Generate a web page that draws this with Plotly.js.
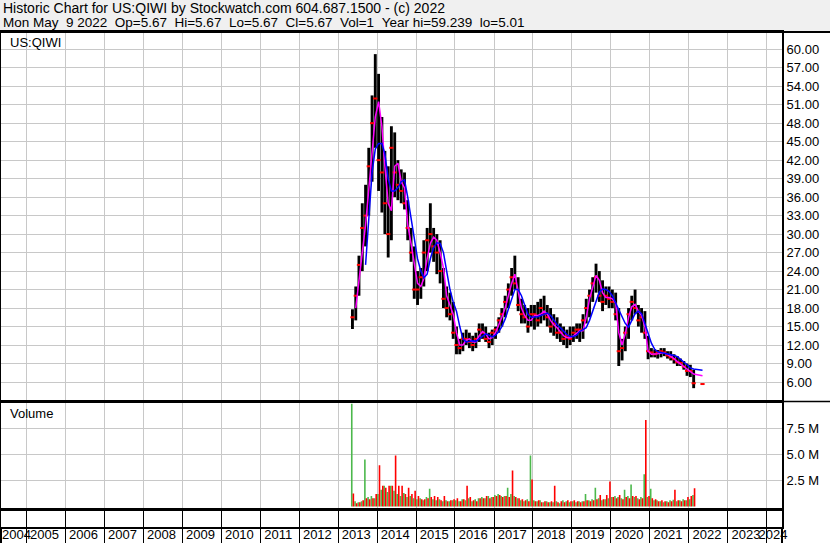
<!DOCTYPE html>
<html><head><meta charset="utf-8">
<script src="https://cdn.plot.ly/plotly-3.0.1.min.js"></script>
<style>html,body{margin:0;padding:0;background:#f0f0f0;overflow:hidden}#chart{width:830px;height:543px}</style>
</head><body><div id="chart"></div>
<script>
// ---------- texts ----------
const headerLine1 = 'Historic Chart for US:QIWI by Stockwatch.com 604.687.1500 - (c) 2022';
const headerLine2 = 'Mon May  9 2022  Op=5.67  Hi=5.67  Lo=5.67  Cl=5.67  Vol=1  Year hi=59.239  lo=5.01';
const symbolLabel = 'US:QIWI';
const volumeLabel = 'Volume';

// ---------- axes ----------
const years = [2004,2005,2006,2007,2008,2009,2010,2011,2012,2013,2014,2015,2016,2017,2018,2019,2020,2021,2022,2023,2024];
const xRange = ['2004-05-08', '2024-05-23'];
const priceTicks = [6,9,12,15,18,21,24,27,30,33,36,39,42,45,48,51,54,57,60];
const volTickVals = [2.5e6, 5e6, 7.5e6];
const volTickText = ['2.5 M', '5.0 M', '7.5 M'];

// ---------- monthly data, May 2013 .. Feb 2022 ----------
const firstYear = 2013, firstMonth = 5, monthCount = 106;
const priceHigh = [
 17.8,21.5,26.5,35,38,44,52.5,59.2,
 56,49,43.5,41,47.5,46.5,42,40.5,40,35.5,31,28,
 24,24.5,29,31,35,31,30,29,24.5,21.5,20.5,19,
 15,13,14,14.5,14,13.5,14,15.5,15.5,15,14,14.5,
 15,16.5,18,20,22,24.5,26.5,23,19.5,18.5,18,18.5,
 18.5,19,19.5,20,18.5,18,17,16.5,15.5,15,14.5,15,
 15,15.5,15.5,17,19.5,21,23,25.2,24,22.5,21.5,21.5,
 21,20.5,18,13,15,18,20,21,18.5,18,17.5,13.5,
 11.5,11.3,11.2,11.5,11.5,11,11,10.5,10.2,9.8,9.4,9,
 8.8,8];
const priceLow = [
 14.6,16,20,24,28,33,38.5,44,
 37,33.5,30,26.2,29,36,35.5,35,34,29,25.5,19.5,
 18.5,19.5,21.5,24,27,25.5,23.5,22,18,16.5,16,13,
 10.5,10.5,11,12,11.5,11,11.5,12.5,13,12.5,11.5,12,
 13,14,15,16.5,18,20,21,17.5,15.5,15.5,14,15,
 14.5,15,15.5,16,15,14,13.5,13,12.5,12,11.5,12,
 12.5,13,12.5,13,15.5,16.5,19,20.5,19,17.5,18.5,18,
 18,16,8.6,9.5,11,13,16,17,15,14,13,9.7,
 10,10,9.8,10,10.2,9.8,9.5,9,8.6,8.6,8,7,
 6.8,5];
const priceClose = [
 16.5,20,25,31,33,41,48,52,
 42,40,35,30,44,40,38,37,35,31,27,21,
 21,23,27,29,30,28,27,24,19.5,18,17,14,
 12,11.5,13,13,12.5,12,13,14.5,14,13,12.5,14,
 14.5,16,17,19,21,23,22,18.5,17,16.5,15,17,
 17,16,18,17,16.5,15,15.5,14,14,13,13.5,13,
 14,14.5,14.5,16,18,20,22,23,20,19,20,19.5,
 19,17,11,11.5,14,17,19,18,16,16.5,14,11,
 10.8,10.5,10.8,11,10.8,10.3,10,9.7,9.2,9.1,8.5,7.8,
 7.8,5.8];
const maFast = [
 null,18,22,27,31.5,37,43,49,
 51.5,47.5,41,35,33.8,41,41.5,38.5,37.5,31.5,28.5,25,
 22,21.5,22.8,26,28.5,29.5,29,27,24.5,20,18.5,17,
 14,12,12,12.8,13,12.5,12.5,13.5,14.2,13.8,13,13.2,
 14,15.2,16.5,18,20,22,23.5,20.5,18,16.8,16,16,
 16.8,16.8,17,17.5,17,16,15.3,14.8,14.2,13.5,13.2,13.2,
 13.5,14,14.3,14.3,16.5,19.5,21.5,23.3,22.5,20.5,19.7,19.7,
 19.5,18.8,14,12,13.8,16.5,18.2,18.6,17.5,16.8,15,11,
 10.5,10.5,10.6,10.7,10.7,10.5,10.2,9.8,9.3,8.9,8.4,8.0,
 7.7,7.3];
const maSlow = [
 null,null,null,null,25,33,40,43.8,
 44.7,44.7,43,39,37,37,37.5,38.5,38.8,36,32.5,29,
 26,24,22.9,23.5,26,27.8,28.6,28.5,27,24,21,19,
 17.5,15,13,12.5,12.6,12.7,12.6,13,13.5,13.8,13.6,13.3,
 13.6,14.2,15,16.2,17.8,19.5,21,21,20,18.5,17,16.5,
 16.5,16.6,16.8,17,17.2,16.8,16,15.3,14.8,14.2,13.7,13.4,
 13.4,13.6,14.2,14.5,14.8,16,17.5,19.4,20.6,21.1,21,20.7,
 20,18.8,17.7,16.6,15.5,14.9,15.9,17.1,17.5,17.1,15.5,14,
 12.3,11.3,10.9,10.8,10.7,10.6,10.5,10.3,10.1,9.7,9.3,8.8,
 8.3,8.1];
// volume in millions of shares: up-day (green) and down-day (red) peaks per month
const volUp = [
 9.87,0.5,0.4,0.5,4.5,0.9,1.0,0.8,
 1.2,1.6,2.0,1.4,2.0,1.5,1.2,1.0,1.3,0.9,1.0,0.8,
 0.7,0.8,0.6,0.9,1.7,0.7,0.6,0.7,0.5,0.6,0.5,0.6,
 0.6,0.5,0.7,0.6,0.8,0.5,0.7,0.8,0.9,0.8,1.0,0.9,
 1.1,1.2,1.0,1.0,1.8,1.2,1.0,0.8,0.6,0.5,0.7,4.9,
 0.6,0.5,0.6,0.4,0.5,0.4,0.4,0.5,0.3,0.6,0.5,0.4,
 0.5,0.4,0.5,0.5,1.2,0.6,0.7,1.8,0.8,0.6,0.7,0.8,
 0.9,1.0,0.9,0.8,1.6,1.0,2.1,0.9,0.8,0.9,3.1,0.9,
 1.7,0.6,0.6,0.5,0.4,0.5,0.6,0.65,0.5,0.6,0.7,0.6,
 0.7,1.1];
const volDown = [
 1.25,0.3,0.4,0.6,0.8,0.7,0.8,1.2,
 3.96,2.0,1.8,2.0,2.0,4.9,2.0,2.0,1.2,1.8,1.2,1.5,
 1.0,0.7,0.7,0.8,0.9,1.0,0.9,0.6,1.0,0.5,0.6,0.7,
 0.8,0.5,0.7,2.0,0.9,0.6,0.5,0.8,0.8,1.0,0.8,0.9,
 1.0,1.1,0.9,1.0,0.9,3.45,0.9,0.8,0.7,0.6,0.5,2.6,
 0.5,0.6,0.4,0.5,0.4,0.5,2.0,0.4,0.5,0.4,0.6,0.5,
 0.6,0.5,0.4,0.5,0.6,0.5,0.6,0.7,1.1,0.7,1.1,2.4,
 0.9,0.8,1.1,0.7,0.9,0.8,1.0,1.0,0.7,0.8,8.3,1.0,
 0.8,0.7,0.5,0.6,0.5,0.4,0.5,1.6,0.6,0.5,0.6,0.9,
 1.0,1.75];
// last trading day shown
const lastDate = '2022-05-09', lastClose = 5.67, lastMaFast = 7.0, lastMaSlow = 7.9;

// ---------- build ----------
const DAY = 86400000;
const pad = n => String(n).padStart(2, '0');
const monthStart = [], monthMid = [];
for (let i = 0; i < monthCount; i++) {
  const k = firstMonth - 1 + i, y = firstYear + Math.floor(k / 12), m = k % 12 + 1;
  monthStart.push(`${y}-${pad(m)}-01`);
  monthMid.push(`${y}-${pad(m)}-15`);
}

// pixel helpers (layout only)
const W = 830, H = 543, ML = 1, MR = 48, MT = 32, MB = 16;
const PW = W - ML - MR, PH = H - MT - MB;
const py = p => (H - MB - p) / PH;
const px = p => (p - ML) / PW;

const gridVals = years.map(y => `${y}-01-01`);
const t0 = Date.parse(xRange[0]), t1 = Date.parse(xRange[1]);
const msPerPx = (t1 - t0) / PW;
const labelVals = years.map(y => {
  const a = Math.max(Date.UTC(y, 0, 1), t0), b = Math.min(Date.UTC(y + 1, 0, 1), t1);
  const c = Math.max((a + b) / 2 - 12 * DAY, t0 + 15.5 * msPerPx);
  return new Date(c).toISOString().slice(0, 10);
});

const FF = 'Liberation Sans, Arial, sans-serif';
const FONT = {family: FF, size: 13, color: '#000'};
const GRID = '#c8c8c8';

const traces = [
  {type: 'bar', x: monthMid, y: priceHigh.map((h, i) => h - priceLow[i]), base: priceLow,
   width: 27 * DAY, marker: {color: '#000', line: {width: 0}}, xaxis: 'x', yaxis: 'y', hoverinfo: 'skip'},
  {type: 'scatter', mode: 'markers', x: monthMid.concat([lastDate]), y: priceClose.concat([lastClose]),
   marker: {symbol: 'line-ew', size: 3, line: {color: '#ff0000', width: 2}}, xaxis: 'x', yaxis: 'y', hoverinfo: 'skip'},
  {type: 'scatter', mode: 'lines', x: monthMid.concat([lastDate]), y: maFast.concat([lastMaFast]),
   line: {color: '#ff00ff', width: 1.5}, xaxis: 'x', yaxis: 'y', hoverinfo: 'skip'},
  {type: 'scatter', mode: 'lines', x: monthMid.concat([lastDate]), y: maSlow.concat([lastMaSlow]),
   line: {color: '#0000ff', width: 1.5}, xaxis: 'x', yaxis: 'y', hoverinfo: 'skip'},
  {type: 'bar', x: monthStart, y: volUp.map(v => v * 1e6), offset: 0, width: 15 * DAY,
   marker: {color: '#4cb84c', line: {width: 0}}, xaxis: 'x2', yaxis: 'y2', hoverinfo: 'skip'},
  {type: 'bar', x: monthStart, y: volDown.map(v => v * 1e6), offset: 15 * DAY, width: 15 * DAY,
   marker: {color: '#ff0000', line: {width: 0}}, xaxis: 'x2', yaxis: 'y2', hoverinfo: 'skip'},
  {type: 'scatter', mode: 'markers', x: [gridVals[10]], y: [null], xaxis: 'x3', yaxis: 'y3', hoverinfo: 'skip'},
  {type: 'scatter', mode: 'markers', x: [gridVals[10]], y: [null], xaxis: 'x4', yaxis: 'y3', hoverinfo: 'skip'}
];

const xCommon = {type: 'date', range: xRange, tickmode: 'array', tickvals: gridVals, showticklabels: false,
  ticks: '', showgrid: true, gridcolor: GRID, gridwidth: 1, zeroline: false,
  showline: true, mirror: true, linecolor: '#000', linewidth: 2, fixedrange: true};

const layout = {
  width: W, height: H, margin: {l: ML, r: MR, t: MT, b: MB, pad: 0},
  paper_bgcolor: '#f0f0f0', plot_bgcolor: '#ffffff', showlegend: false,
  barmode: 'overlay', hovermode: false, font: FONT,
  xaxis: Object.assign({}, xCommon, {anchor: 'y'}),
  yaxis: {domain: [py(400), 1], anchor: 'x', side: 'right', range: [3.08, 62.79], tickmode: 'array',
    tickvals: priceTicks, ticktext: priceTicks.map(v => v.toFixed(2)), ticks: '', showgrid: true,
    gridcolor: GRID, zeroline: false, showline: true, mirror: true, linecolor: '#000', linewidth: 2, tickfont: FONT},
  xaxis2: Object.assign({}, xCommon, {anchor: 'y2', linewidth: 1.5}),
  yaxis2: {domain: [py(509.5), py(403)], anchor: 'x2', side: 'right', range: [-0.29e6, 9.93e6], tickmode: 'array',
    tickvals: volTickVals, ticktext: volTickText, ticks: '', showgrid: true, gridcolor: GRID, zeroline: false,
    showline: true, mirror: true, linecolor: '#000', linewidth: 2, tickfont: FONT},
  xaxis3: Object.assign({}, xCommon, {anchor: 'y3', gridcolor: '#000', ticks: 'outside', ticklen: 16,
    tickcolor: '#000', tickwidth: 1}),
  yaxis3: {domain: [0, py(510)], anchor: 'x3', range: [0, 1], showgrid: false, showticklabels: false, ticks: '',
    zeroline: false, showline: true, mirror: true, linecolor: '#000', linewidth: 2},
  xaxis4: {type: 'date', range: xRange, overlaying: 'x3', anchor: 'free', position: py(524.5), side: 'bottom',
    tickmode: 'array', tickvals: labelVals, ticktext: years.map(String), tickangle: 0, ticklabeloverflow: 'allow',
    showgrid: false, ticks: '', showline: false, zeroline: false, tickfont: FONT, fixedrange: true},
  shapes: [
    {type: 'rect', xref: 'paper', yref: 'paper', x0: px(0), x1: px(W), y0: py(H), y1: 1,
     fillcolor: '#ffffff', line: {width: 0}, layer: 'below'},
    {type: 'line', xref: 'paper', yref: 'paper', x0: px(0), x1: px(W), y0: 1, y1: 1, line: {color: '#000', width: 2}},
    {type: 'line', xref: 'paper', yref: 'paper', x0: 1, x1: px(W), y0: py(401.5), y1: py(401.5), line: {color: '#000', width: 1.5}},
    {type: 'line', xref: 'paper', yref: 'paper', x0: 0, x1: 0, y0: py(H), y1: 0, line: {color: '#000', width: 2}},
    {type: 'line', xref: 'paper', yref: 'paper', x0: 1, x1: 1, y0: py(H), y1: 0, line: {color: '#000', width: 2}}
  ],
  annotations: [
    {xref: 'paper', yref: 'paper', x: px(2), y: py(8), xanchor: 'left', yanchor: 'middle', showarrow: false,
     text: headerLine1.replace(/ /g, '\u00a0'), font: {family: FF, size: 14, color: '#000'}, borderpad: 0},
    {xref: 'paper', yref: 'paper', x: px(2), y: py(22.5), xanchor: 'left', yanchor: 'middle', showarrow: false,
     text: headerLine2.replace(/ /g, '\u00a0'), font: {family: FF, size: 13.5, color: '#000'}, borderpad: 0},
    {xref: 'paper', yref: 'paper', x: px(8), y: py(42), xanchor: 'left', yanchor: 'middle', showarrow: false,
     text: symbolLabel, font: FONT},
    {xref: 'paper', yref: 'paper', x: px(8), y: py(413), xanchor: 'left', yanchor: 'middle', showarrow: false,
     text: volumeLabel, font: FONT}
  ]
};

Plotly.newPlot('chart', traces, layout, {staticPlot: true, displayModeBar: false});
</script></body></html>
